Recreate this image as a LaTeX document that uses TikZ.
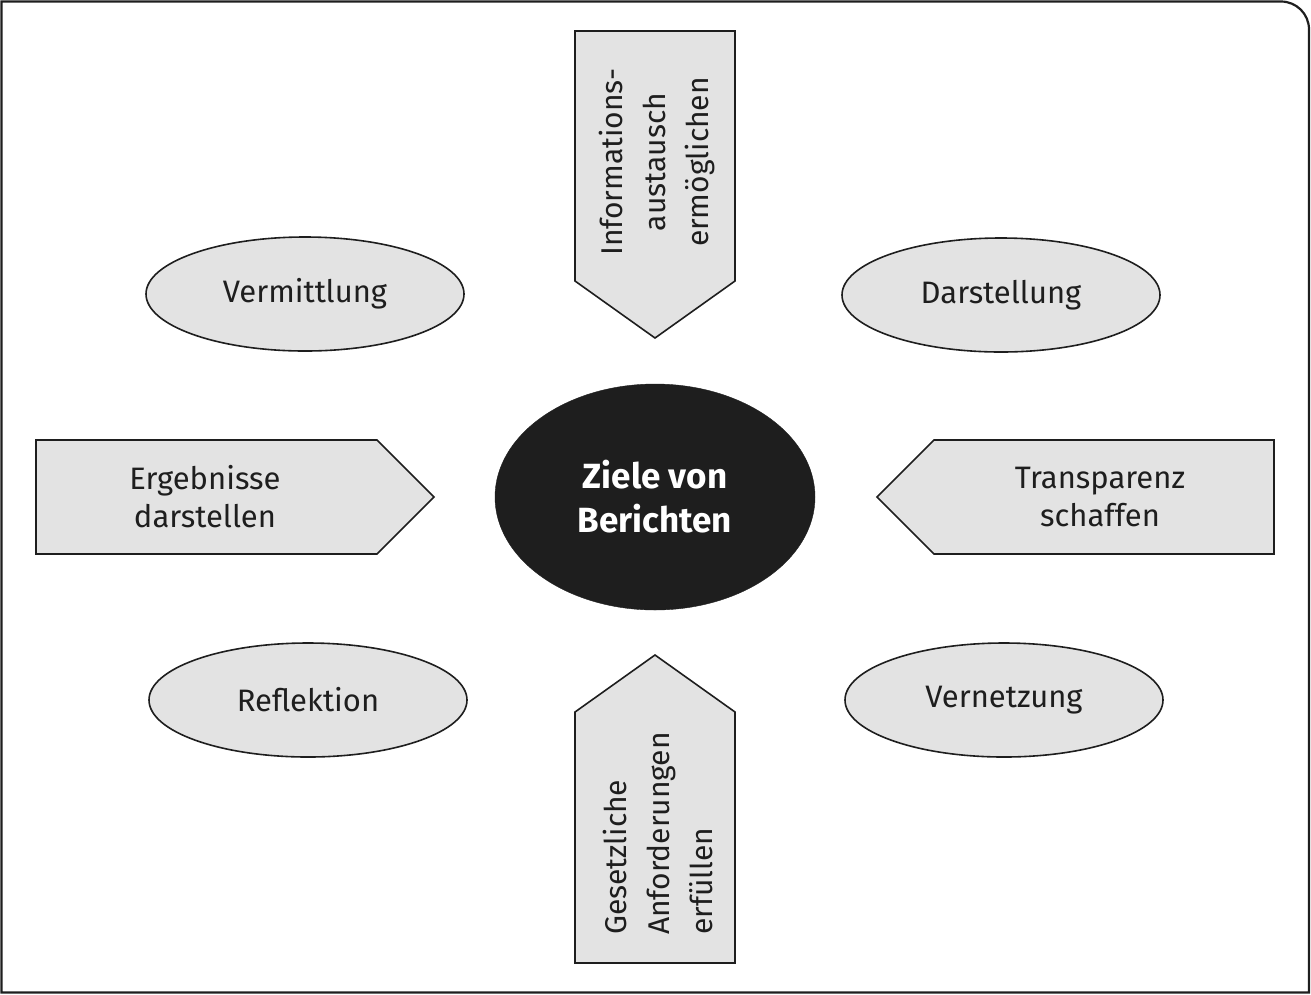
\documentclass[tikz,border=0pt]{standalone}
\usepackage{fontspec}
\setmainfont{Fira Sans}
\usetikzlibrary{shapes.geometric}
\definecolor{boxfill}{HTML}{E3E3E3}
\definecolor{edge}{HTML}{1E1E1E}
\tikzset{
  lbl/.style={font=\fontsize{31}{38}\selectfont, text=edge, align=center, inner sep=0pt},
  vlbl/.style={font=\fontsize{30}{43}\selectfont, text=edge, inner sep=0pt, rotate=90},
  oval/.style={ellipse, draw=edge, line width=1.6pt, fill=boxfill, minimum width=318pt, minimum height=114pt, inner sep=0pt, font=\fontsize{31}{38}\selectfont, text=edge},
  shapebox/.style={draw=edge, line width=1.6pt, fill=boxfill, line join=miter}
}
\begin{document}
\begin{tikzpicture}[x=1pt,y=-1pt]
\useasboundingbox (0,0) rectangle (1311,994);
% frame
\draw[edge, line width=2.2pt] (1.5,992.5) -- (1.5,1.5) -- (1281,1.5) .. controls (1296.5,1.5) and (1309,14) .. (1309,29.5) -- (1309,992.5) -- cycle;
% center
\node[ellipse, fill=edge, draw=edge, minimum width=320pt, minimum height=226pt, inner sep=0pt, text=white, align=center, font=\bfseries\fontsize{35}{44}\selectfont] (c) at (655,497) {Ziele von\\Berichten};
% ellipses
\node[oval] (verm) at (305,294) {Vermittlung};
\node[oval] (dars) at (1001,295) {Darstellung};
\node[oval] (refl) at (308,700) {Reflektion};
\node[oval] (vern) at (1004,700) {Vernetzung};
% top arrow
\draw[shapebox] (575,31) -- (735,31) -- (735,281) -- (655,338) -- (575,281) -- cycle;
\node[vlbl, align=center] (top) at (657,162) {Informations-\\austausch\\ermöglichen};
% bottom arrow
\draw[shapebox] (575,963) -- (735,963) -- (735,712) -- (655,655) -- (575,712) -- cycle;
\node[vlbl, align=left, anchor=west] (bot) at (658,935) {Gesetzliche\\Anforderungen\\erfüllen};
% left arrow
\draw[shapebox] (36,440) -- (377,440) -- (434,497) -- (377,554) -- (36,554) -- cycle;
\node[lbl] (left) at (205,497) {Ergebnisse\\darstellen};
% right arrow
\draw[shapebox] (1274,440) -- (934,440) -- (877,497) -- (934,554) -- (1274,554) -- cycle;
\node[lbl] (right) at (1100,497) {Transparenz\\schaffen};
\end{tikzpicture}
\end{document}
